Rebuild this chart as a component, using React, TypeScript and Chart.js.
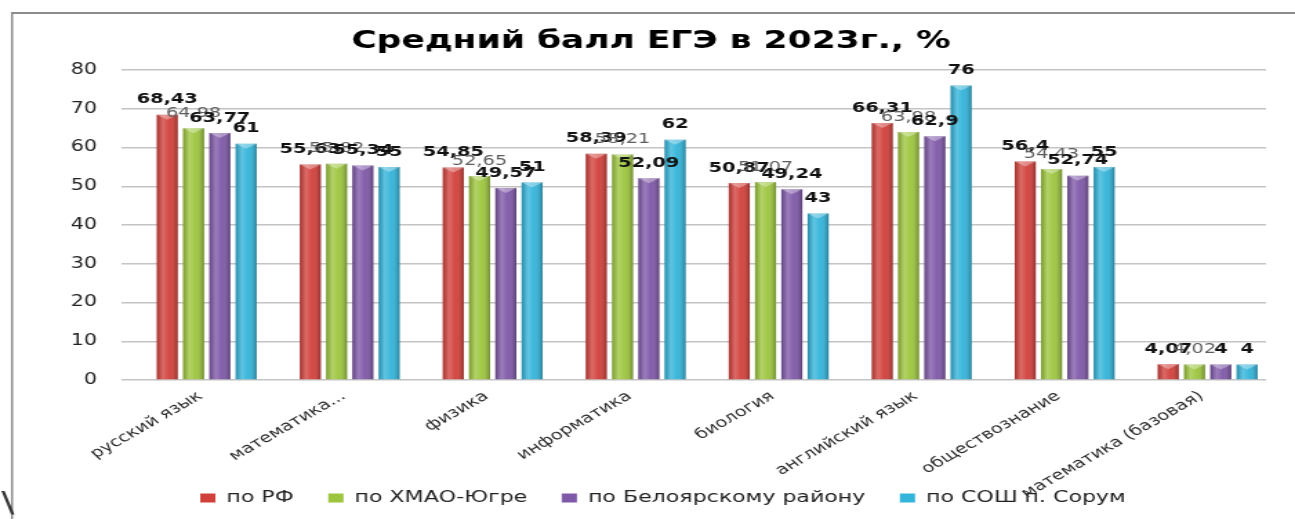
import React, { useEffect, useRef } from "react";
import { Chart, registerables } from "chart.js";

Chart.register(...registerables);

const title = "Средний балл ЕГЭ в 2023г., %";
const categories = [
  "русский язык",
  "математика...",
  "физика",
  "информатика",
  "биология",
  "английский язык",
  "обществознание",
  "математика (базовая)",
];
const seriesNames = ["по РФ", "по ХМАО-Югре", "по Белоярскому району", "по СОШ п. Сорум"];
const rfValues = [68.43, 55.63, 54.85, 58.39, 50.87, 66.31, 56.4, 4.07];
const hmaoValues = [64.98, 55.82, 52.65, 58.21, 51.07, 63.98, 54.43, 4.02];
const beloyarskValues = [63.77, 55.34, 49.57, 52.09, 49.24, 62.9, 52.74, 4];
const sorumValues = [61, 55, 51, 62, 43, 76, 55, 4];
const seriesColors = ["#D2403B", "#9DC63E", "#7F58A8", "#33B4DA"];
const yMin = 0;
const yMax = 80;
const yStep = 10;

const CANVAS_W = 938;
const CANVAS_H = 519;
const FONT = "'DejaVu Sans', sans-serif";

const fmt = (v: number) => String(v).replace(".", ",");

const framePlugin = {
  id: "frame",
  beforeDraw(chart: any) {
    const ctx = chart.ctx;
    ctx.save();
    ctx.fillStyle = "#ffffff";
    ctx.fillRect(0, 0, chart.width, chart.height);
    ctx.strokeStyle = "#8c8c8c";
    ctx.lineWidth = 2;
    ctx.beginPath();
    ctx.moveTo(8.7, 13);
    ctx.lineTo(chart.width, 13);
    ctx.stroke();
    ctx.lineWidth = 1.5;
    ctx.beginPath();
    ctx.moveTo(8.7, 12);
    ctx.lineTo(8.7, chart.height);
    ctx.stroke();
    ctx.fillStyle = "#333";
    ctx.font = `28px ${FONT}`;
    ctx.textBaseline = "middle";
    ctx.textAlign = "left";
    ctx.fillText("\\", 1, 505);
    ctx.restore();
  },
};

const shadePlugin = {
  id: "shade",
  afterDatasetsDraw(chart: any) {
    const ctx = chart.ctx;
    ctx.save();
    chart.data.datasets.forEach((ds: any, di: number) => {
      if (di === 0) return;
      const meta = chart.getDatasetMeta(di);
      meta.data.forEach((el: any) => {
        const { x, y, base, width } = el.getProps(["x", "y", "base", "width"], true);
        if (x == null || isNaN(y)) return;
        const l = x - width / 2;
        const r = x + width / 2;
        const g = ctx.createLinearGradient(l, 0, r, 0);
        g.addColorStop(0, "rgba(0,0,0,0.22)");
        g.addColorStop(0.3, "rgba(255,255,255,0.22)");
        g.addColorStop(0.6, "rgba(255,255,255,0.04)");
        g.addColorStop(1, "rgba(0,0,0,0.30)");
        ctx.fillStyle = g;
        ctx.fillRect(l, y, width, base - y);
        ctx.fillStyle = "rgba(255,255,255,0.35)";
        ctx.beginPath();
        ctx.moveTo(l, y);
        ctx.lineTo(r, y);
        ctx.lineTo(x, y + 5);
        ctx.closePath();
        ctx.fill();
      });
    });
    ctx.restore();
  },
};

const labelPlugin = {
  id: "valueLabels",
  afterDatasetsDraw(chart: any) {
    const ctx = chart.ctx;
    ctx.save();
    ctx.textAlign = "center";
    ctx.textBaseline = "middle";
    chart.data.datasets.forEach((ds: any, di: number) => {
      if (di === 0) return;
      const meta = chart.getDatasetMeta(di);
      const isGray = di === 2;
      ctx.font = isGray ? `14px ${FONT}` : `bold 14px ${FONT}`;
      ctx.fillStyle = isGray ? "#5e5e5e" : "#111";
      meta.data.forEach((el: any, i: number) => {
        const v = ds.data[i];
        if (v == null) return;
        const { x, y } = el.getProps(["x", "y"], true);
        ctx.fillText(fmt(v), x, y - 15);
      });
    });
    ctx.restore();
  },
};

export default function App() {
  const ref = useRef<HTMLCanvasElement | null>(null);

  useEffect(() => {
    if (!ref.current) return;
    const dataSeries = [rfValues, hmaoValues, beloyarskValues, sorumValues];
    const chart = new Chart(ref.current, {
      type: "bar",
      data: {
        labels: categories,
        datasets: [
          {
            label: "",
            data: categories.map(() => null),
            backgroundColor: "rgba(0,0,0,0)",
          },
          ...dataSeries.map((d, i) => ({
            label: seriesNames[i],
            data: d,
            backgroundColor: seriesColors[i],
            borderWidth: 0,
          })),
        ],
      },
      options: {
        responsive: false,
        devicePixelRatio: 1,
        animation: false,
        maintainAspectRatio: false,
        datasets: {
          bar: {
            categoryPercentage: 0.919,
            barPercentage: 0.8,
          },
        },
        layout: { padding: { left: 43.4, right: 21, top: 0, bottom: 3 } },
        plugins: {
          title: {
            display: true,
            text: title + "\u00A0\u00A0",
            color: "#000",
            font: { family: FONT, size: 25, weight: "bold", lineHeight: 1.2 },
            padding: { top: 26, bottom: 14 },
          },
          legend: {
            position: "bottom",
            labels: {
              filter: (item: any) => item.datasetIndex !== 0,
              font: { family: FONT, size: 16 },
              color: "#222",
              boxWidth: 11,
              boxHeight: 9,
              padding: 25,
            },
          },
          tooltip: { enabled: false },
        },
        scales: {
          x: {
            grid: { display: false, drawTicks: false },
            border: { display: false },
            ticks: {
              font: { family: FONT, size: 14 },
              color: "#2a2a2a",
              minRotation: 38,
              maxRotation: 38,
              autoSkip: false,
              padding: 8,
              labelOffset: 5,
            },
            afterFit: (s: any) => {
              s.height = 85;
              s._computeLabelArea = () => undefined;
            },
          },
          y: {
            min: yMin,
            max: yMax,
            ticks: {
              stepSize: yStep,
              font: { family: FONT, size: 15 },
              color: "#222",
              padding: 18,
            },
            grid: { color: "#c4c4c4", lineWidth: 1.5, drawTicks: false },
            border: { display: false },
            afterFit: (s: any) => {
              s.width = 45;
            },
          },
        },
      },
      plugins: [framePlugin, shadePlugin, labelPlugin],
    } as any);
    return () => chart.destroy();
  }, []);

  return (
    <div style={{ position: "absolute", left: 0, top: 0, width: 1295, height: 519, background: "#fff" }}>
      <canvas
        ref={ref}
        width={CANVAS_W}
        height={CANVAS_H}
        style={{ width: "1295px", height: "519px", display: "block" }}
      />
    </div>
  );
}
